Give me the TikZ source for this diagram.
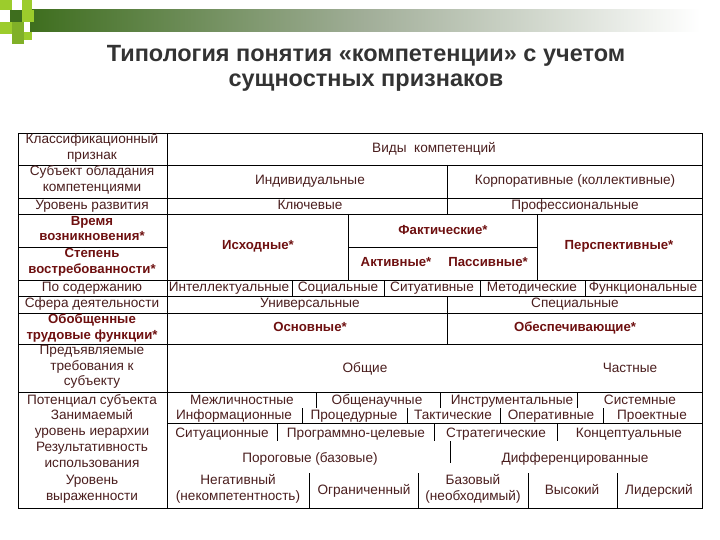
\documentclass[tikz,border=0pt]{standalone}
\usepackage{fontspec}
\setmainfont{Liberation Sans}
\begin{document}
\begin{tikzpicture}[x=1pt,y=-1pt,
  txt/.style={font=\fontsize{13.6}{15.5}\selectfont, text=txtc, inner sep=0pt, align=center, execute at begin node=\strut, execute at end node=\strut},
  bld/.style={font=\fontsize{13.2}{15.5}\selectfont\bfseries, text=boldc, inner sep=0pt, align=center, execute at begin node=\strut, execute at end node=\strut},
  grid/.style={line width=0.8pt, draw=black}]
\definecolor{txtc}{HTML}{4A1E1E}
\definecolor{boldc}{HTML}{6E1010}
\definecolor{dg}{HTML}{3E6E1E}
\definecolor{lime}{HTML}{9CCC2C}
\useasboundingbox (0,0) rectangle (720,540);
% header decoration
\shade[left color=dg, right color=white, middle color=dg!45!gray!60] (30,10) rectangle (700,32);
\fill[lime] (0,0) rectangle (12,10);
\fill[lime] (22,0) rectangle (32,10);
\fill[dg] (10,10) rectangle (22,22);
\fill[lime] (22,10) rectangle (34,22);
\fill[lime] (0,22) rectangle (12,34);
\fill[lime!70!dg] (12,22) rectangle (24,44);
\fill[lime] (24,32) rectangle (32,40);
% title
\node[font=\fontsize{23.5}{25}\selectfont\bfseries, text=black!80, align=center] (title) at (366,68)
  {Типология понятия «компетенции» с учетом\\сущностных признаков};
% grid
\draw[grid] (18,133) rectangle (702,508);
\draw[grid] (167,133) -- (167,508);
\foreach \y in {165,198,214,280,296,313,344,392} \draw[grid] (18,\y) -- (702,\y);
\draw[grid] (18,247) -- (167,247);
\draw[grid] (348,247) -- (537,247);
\draw[grid] (167,423) -- (702,423);
\draw[grid] (447,165) -- (447,214);
\draw[grid] (348,214) -- (348,280);
\draw[grid] (537,214) -- (537,280);
\foreach \x in {292,384,480,585} \draw[grid] (\x,280) -- (\x,296);
\draw[grid] (447,296) -- (447,344);
\foreach \x in {316,440,577} \draw[grid] (\x,392) -- (\x,408);
\foreach \x in {302,407,500,603} \draw[grid] (\x,408) -- (\x,423);
\foreach \x in {277,434,557} \draw[grid] (\x,423) -- (\x,441);
\draw[grid] (450,441) -- (450,463);
\foreach \x in {309,418,528,617} \draw[grid] (\x,473) -- (\x,508);
% left column
\node[txt] (l1) at (92,149) {Классификационный\\признак};
\node[txt] (l2) at (92,181) {Субъект обладания\\компетенциями};
\node[txt] (l3) at (92,206) {Уровень развития};
\node[bld] (l4) at (92,231) {Время\\возникновения*};
\node[bld] (l5) at (92,263) {Степень\\востребованности*};
\node[txt] (l6) at (92,288) {По содержанию};
\node[txt] (l7) at (92,304) {Сфера деятельности};
\node[bld] (l8) at (92,329) {Обобщенные\\трудовые функции*};
\node[txt] (l9) at (92,368) {Предъявляемые\\требования к\\субъекту};
\node[txt] (l10) at (92,401) {Потенциал субъекта};
\node[txt] (l11) at (92,425) {Занимаемый\\уровень иерархии};
\node[txt] (l12) at (92,457) {Результативность\\использования};
\node[txt] (l13) at (92,490) {Уровень\\выраженности};
% right cells
\node[txt] (h) at (434,149) {Виды \ компетенций};
\node[txt] (a1) at (310,181) {Индивидуальные};
\node[txt] (a2) at (575,181) {Корпоративные (коллективные)};
\node[txt] (b1) at (310,206) {Ключевые};
\node[txt] (b2) at (575,206) {Профессиональные};
\node[bld] (c1) at (258,246) {Исходные*};
\node[bld] (c2) at (443,231) {Фактические*};
\node[bld] (c3) at (396,263) {Активные*};
\node[bld] (c4) at (488,263) {Пассивные*};
\node[bld] (c5) at (619,246) {Перспективные*};
\node[txt] (d1) at (229,288) {Интеллектуальные};
\node[txt] (d2) at (338,288) {Социальные};
\node[txt] (d3) at (432,288) {Ситуативные};
\node[txt] (d4) at (532,288) {Методические};
\node[txt] (d5) at (643,288) {Функциональные};
\node[txt] (e1) at (310,304) {Универсальные};
\node[txt] (e2) at (575,304) {Специальные};
\node[bld] (f1) at (310,328) {Основные*};
\node[bld] (f2) at (575,328) {Обеспечивающие*};
\node[txt] (g1) at (365,369) {Общие};
\node[txt] (g2) at (630,369) {Частные};
\node[txt] (i1) at (242,401) {Межличностные};
\node[txt] (i2) at (377,401) {Общенаучные};
\node[txt] (i3) at (512,401) {Инструментальные};
\node[txt] (i4) at (640,401) {Системные};
\node[txt] (j1) at (234,416) {Информационные};
\node[txt] (j2) at (354,416) {Процедурные};
\node[txt] (j3) at (453,416) {Тактические};
\node[txt] (j4) at (551,416) {Оперативные};
\node[txt] (j5) at (652,416) {Проектные};
\node[txt] (k1) at (222,434) {Ситуационные};
\node[txt] (k2) at (356,434) {Программно-целевые};
\node[txt] (k3) at (496,434) {Стратегические};
\node[txt] (k4) at (629,434) {Концептуальные};
\node[txt] (m1) at (310,459) {Пороговые (базовые)};
\node[txt] (m2) at (575,459) {Дифференцированные};
\node[txt] (n1) at (238,490) {Негативный\\(некомпетентность)};
\node[txt] (n2) at (364,491) {Ограниченный};
\node[txt] (n3) at (473,490) {Базовый\\(необходимый)};
\node[txt] (n4) at (572,491) {Высокий};
\node[txt] (n5) at (659,491) {Лидерский};
\end{tikzpicture}
\end{document}
